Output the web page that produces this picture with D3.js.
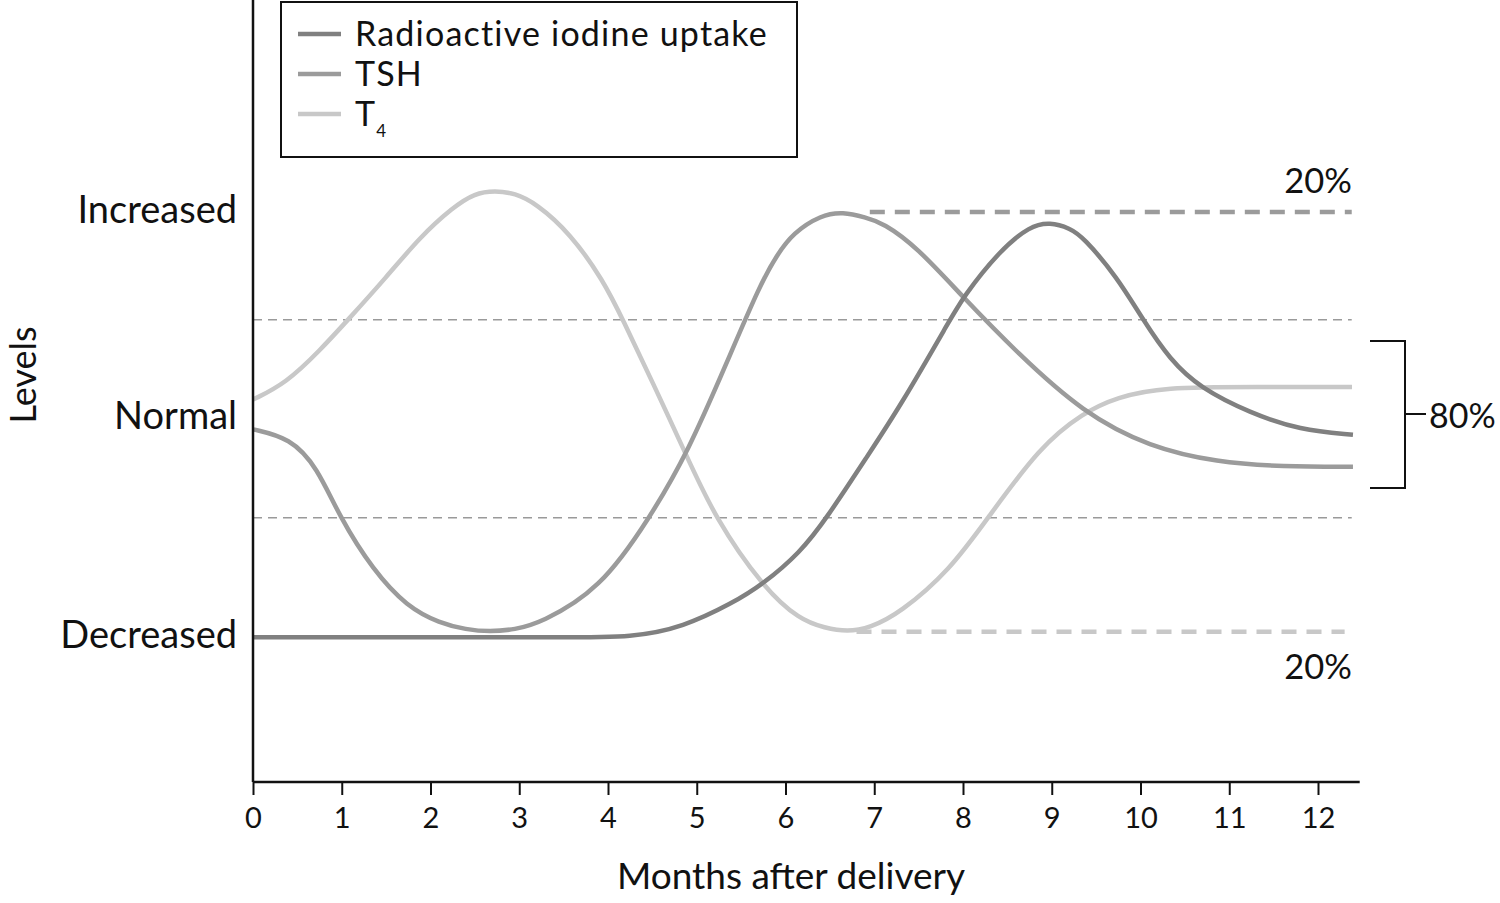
<!DOCTYPE html>
<html>
<head>
<meta charset="utf-8">
<script src="https://cdn.jsdelivr.net/npm/d3@7"></script>
<style>
  html, body { margin: 0; padding: 0; background: #fff; }
  svg { display: block; font-family: Lato, "Open Sans", sans-serif; }
</style>
</head>
<body>
<svg id="chart" width="1500" height="903"></svg>
<script>
// ---- Data (x: months after delivery, y: relative level 0–100) ----
const monthTicks = [0,1,2,3,4,5,6,7,8,9,10,11,12];
const levelLabels = ["Increased", "Normal", "Decreased"];
const levelValues = [73.1, 46.8, 18.7];
const normalBand = [59.1, 33.8];

const raiuMonths = [0, 2.0, 3.5, 4.282, 4.845, 5.408, 5.746, 6.163, 6.468, 6.918, 7.29, 7.854, 8.0, 8.417, 8.755, 8.98, 9.206, 9.352, 9.735, 10.028, 10.332, 10.67, 11.234, 11.797, 12.394];
const raiuLevels = [18.5, 18.5, 18.5, 18.5, 19.8, 22.9, 25.3, 29.3, 33.8, 41.6, 48.0, 59.1, 62.0, 68.0, 71.1, 71.6, 70.8, 69.7, 64.6, 59.1, 54.0, 50.4, 47.2, 45.0, 44.4];

const tshMonths = [0, 0.417, 0.721, 0.98, 1.352, 1.735, 2.107, 2.4, 2.67, 2.95, 3.234, 3.91, 4.473, 4.901, 5.341, 5.713, 5.904, 6.085, 6.4, 6.648, 6.9, 7.099, 7.482, 8.0, 8.608, 9.352, 10.107, 10.862, 11.606, 12.394];
const tshLevels = [45.1, 44.0, 40.3, 33.8, 27.1, 22.4, 20.3, 19.5, 19.2, 19.5, 20.3, 24.6, 33.8, 42.2, 53.7, 63.6, 67.4, 70.2, 72.5, 72.9, 72.2, 71.5, 68.4, 62.0, 54.9, 47.2, 42.8, 40.9, 40.3, 40.3];

const t4Months = [0, 0.372, 0.755, 1.07, 1.499, 1.882, 2.254, 2.5, 2.727, 2.95, 3.189, 3.572, 3.944, 4.169, 4.507, 4.89, 5.206, 5.746, 6.163, 6.445, 6.693, 6.95, 7.29, 7.854, 8.282, 8.868, 9.352, 9.735, 10.254, 11.3, 12.383];
const t4Levels = [48.9, 51.0, 55.2, 59.1, 64.5, 69.7, 73.5, 75.3, 75.6, 75.3, 74.0, 70.2, 64.2, 59.1, 51.0, 41.6, 33.8, 24.9, 20.7, 19.7, 19.2, 19.7, 21.6, 27.1, 33.8, 42.9, 47.2, 49.2, 50.5, 50.5, 50.5];

// dashed extensions: [startMonth, endMonth, level]
const tshExtension = [6.95, 12.38, 72.9];
const t4Extension = [6.8, 12.3, 19.2];

const seriesNames = ["Radioactive iodine uptake", "TSH", "T4"];
const seriesColors = ["#808080", "#9b9b9b", "#c8c8c8"];

// ---- Scales ----
const svg = d3.select("#chart");
const x = d3.scaleLinear().domain([0, 12]).range([253, 1318]);
const y = d3.scaleLinear().domain([0, 100]).range([782, 0]);
const xEnd = 12.47;

// normal band dashed lines
svg.selectAll("line.band").data(normalBand).enter().append("line")
  .attr("x1", x(0)).attr("x2", x(12.38))
  .attr("y1", d => y(d)).attr("y2", d => y(d))
  .attr("stroke", "#9a9a9a").attr("stroke-width", 1.5)
  .attr("stroke-dasharray", "9,6");

// curves
const line = d3.line().x(d => x(d[0])).y(d => y(d[1])).curve(d3.curveBasis);
const series = [
  d3.zip(t4Months, t4Levels),
  d3.zip(tshMonths, tshLevels),
  d3.zip(raiuMonths, raiuLevels)
];
const order = [2, 1, 0];
series.forEach((s, i) => {
  svg.append("path").datum(s).attr("d", line)
    .attr("fill", "none").attr("stroke", seriesColors[order[i]])
    .attr("stroke-width", 4.5).attr("stroke-linecap", "butt");
});

// dashed extensions
[[tshExtension, seriesColors[1]], [t4Extension, seriesColors[2]]].forEach(([e, c]) => {
  svg.append("line")
    .attr("x1", x(e[0])).attr("x2", x(e[1]))
    .attr("y1", y(e[2])).attr("y2", y(e[2]))
    .attr("stroke", c).attr("stroke-width", 4.5)
    .attr("stroke-dasharray", "15,10");
});

// axes
const xAxis = d3.axisBottom(x).tickValues(monthTicks).tickSize(13).tickPadding(12).tickSizeOuter(0);
const gx = svg.append("g").attr("transform", `translate(0,${y(0)})`).call(xAxis);
gx.select(".domain").remove();
gx.append("line").attr("x1", x(0)).attr("x2", x(xEnd)).attr("y1", 0).attr("y2", 0)
  .attr("stroke", "#111").attr("stroke-width", 2.5);
gx.selectAll(".tick line").attr("stroke", "#111").attr("stroke-width", 2);
gx.selectAll(".tick text").attr("fill", "#111").style("font-size", "29px")
  .style("font-family", "Lato, sans-serif");

const yAxis = d3.axisLeft(y).tickValues(levelValues)
  .tickFormat((d, i) => levelLabels[i]).tickSize(0).tickPadding(16);
const gy = svg.append("g").attr("transform", `translate(${x(0)},0)`).call(yAxis);
gy.select(".domain").remove();
gy.append("line").attr("x1", 0).attr("x2", 0).attr("y1", y(0)).attr("y2", y(100))
  .attr("stroke", "#111").attr("stroke-width", 2.5);
gy.selectAll(".tick text").attr("fill", "#111").style("font-size", "38px")
  .style("font-family", "Lato, sans-serif");

// axis titles
svg.append("text").attr("x", 791).attr("y", 889).attr("text-anchor", "middle")
  .style("font-size", "37px").attr("fill", "#111").text("Months after delivery");
svg.append("text").attr("transform", "translate(36,375) rotate(-90)")
  .attr("text-anchor", "middle").style("font-size", "36px").attr("fill", "#111").text("Levels");

// percentage annotations
svg.append("text").attr("x", 1352).attr("y", 193).attr("text-anchor", "end")
  .style("font-size", "34.5px").attr("fill", "#111").text("20%");
svg.append("text").attr("x", 1352).attr("y", 679).attr("text-anchor", "end")
  .style("font-size", "34.5px").attr("fill", "#111").text("20%");
svg.append("text").attr("x", 1429).attr("y", 428).attr("text-anchor", "start")
  .style("font-size", "34px").attr("fill", "#111").text("80%");
svg.append("path")
  .attr("d", "M1370,341 H1405 V488 H1370 M1405,414 H1426")
  .attr("fill", "none").attr("stroke", "#111").attr("stroke-width", 2);

// legend
const lg = svg.append("g");
lg.append("rect").attr("x", 281).attr("y", 2).attr("width", 516).attr("height", 155)
  .attr("fill", "#fff").attr("stroke", "#111").attr("stroke-width", 2);
const legendY = [34, 74, 114];
seriesNames.forEach((n, i) => {
  lg.append("line").attr("x1", 298).attr("x2", 341).attr("y1", legendY[i]).attr("y2", legendY[i])
    .attr("stroke", seriesColors[i]).attr("stroke-width", 4.5);
  const t = lg.append("text").attr("x", 355).attr("y", legendY[i] + 12)
    .style("font-size", "34px").style("letter-spacing", "1.2px").attr("fill", "#111");
  if (n === "T4") {
    t.append("tspan").text("T");
    t.append("tspan").attr("dy", 11).style("font-size", "17px").text("4");
  } else {
    t.text(n);
  }
});
</script>
</body>
</html>
